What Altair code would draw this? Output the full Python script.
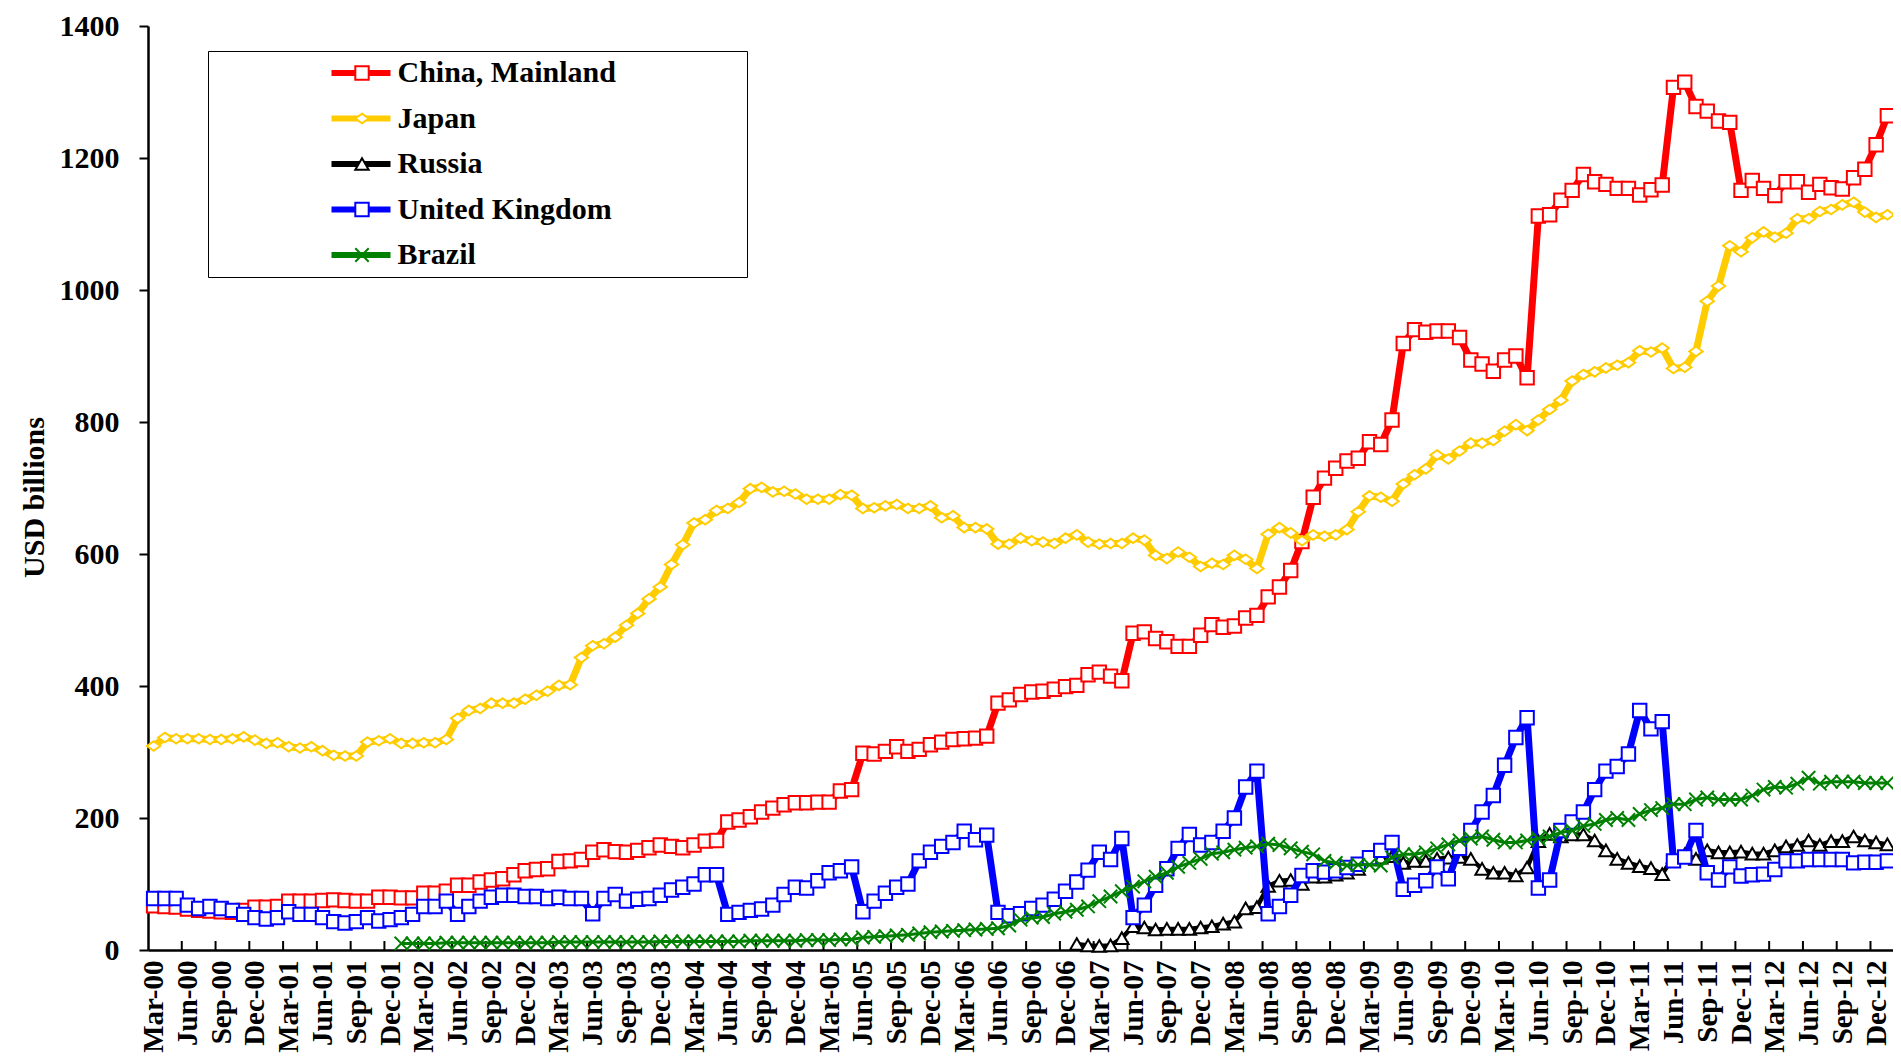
import altair as alt
import pandas as pd

# ---------------- data ----------------
SERIES = ["China, Mainland", "Japan", "Russia", "United Kingdom", "Brazil"]
COLORS = ["#FF0000", "#FFCC00", "#000000", "#0000FF", "#008000"]
LINE_WIDTHS = [7, 7, 4.5, 7, 3]

MONTH_NAMES = ["Jan", "Feb", "Mar", "Apr", "May", "Jun",
               "Jul", "Aug", "Sep", "Oct", "Nov", "Dec"]
# monthly categories Mar-00 ... Jan-13
months = []
mm, yy = 2, 0
for _ in range(155):
    months.append(f"{MONTH_NAMES[mm]}-{yy:02d}")
    mm += 1
    if mm == 12:
        mm, yy = 0, yy + 1

china = [67, 66, 65, 62, 60, 59, 58, 57, 60,
         65, 65, 66, 74, 74, 74, 75, 76, 75, 74, 74, 80, 80, 79, 79, 86, 86, 89, 98, 98,
         103, 106, 108, 114, 120, 122, 123, 134, 135, 137,
         148, 152, 149, 148, 151, 155, 159, 157, 155, 159,
         165, 166, 194, 197, 202, 209, 215, 220, 223, 223,
         224, 224, 241, 243, 298, 297, 301, 308, 301, 304,
         311, 315, 319, 320, 321, 324, 374, 379, 387, 391,
         392, 395, 399, 401, 417, 421, 415, 408, 480, 482,
         472, 467, 460, 460, 477, 493, 489, 491, 503, 507,
         535, 550, 575, 619, 686, 715, 730, 741, 745, 770,
         766, 803, 919,
         940, 936, 938, 938, 928, 894, 888, 877, 894, 900,
         867, 1112, 1114, 1136, 1151, 1175, 1164, 1160, 1154, 1154,
         1144, 1152, 1159, 1307, 1315, 1278, 1271, 1256, 1254, 1151,
         1166, 1154, 1143, 1164, 1164, 1148, 1160, 1155, 1153, 1170,
         1183, 1220, 1264]

japan = [309, 322, 320, 320, 320, 319, 319, 320, 323, 318,
         313, 314, 308, 306, 308, 302, 295, 294, 294, 315,
         317, 320, 313, 313, 314, 314, 319, 351, 363, 366,
         374, 374, 374, 380, 386, 392, 401, 402, 443,
         461, 464, 474, 492, 510, 532, 550, 584, 614, 647,
         652, 666, 669, 678, 699, 701, 694, 695, 691, 683,
         683, 683, 690, 689, 669, 670, 673, 675, 669, 669,
         673, 655, 658, 640, 640, 638, 615,
         615, 624, 620, 618, 616, 624, 629, 618, 615, 616,
         616, 624, 621, 598, 593, 603, 595, 581, 586, 584,
         598, 592, 578, 630, 640, 632, 620, 629, 627, 629,
         637, 664, 688, 686, 680, 706, 720, 729, 750,
         744, 756, 768, 768, 772, 786, 796, 787, 803, 819, 833,
         862, 872, 876, 882, 886, 890, 908, 906, 912, 881,
         883, 907, 983, 1006, 1067, 1058, 1079, 1088, 1080, 1086,
         1108, 1108, 1119, 1122, 1129, 1133, 1118, 1110, 1114]

russia = [None] * 82 + [
    9, 7, 6, 7, 18, 36, 34, 31, 32, 32,
    32, 34, 36, 40, 43, 63, 65, 97, 105, 106,
    100, 111, 111, 114, 117, 123, 140, 140, 142, 132,
    135, 135, 138, 140, 141, 138, 123, 117, 117, 113,
    125, 165, 176, 172, 175, 175, 166, 151, 138, 132,
    127, 124, 115, 141, 145, 138, 151, 148, 148, 149,
    146, 146, 151, 157, 159, 166, 159, 165, 165, 172,
    166, 163, 160]

uk = [78, 78, 78, 68, 63, 66, 63, 60, 54, 49,
      47, 49, 58, 54, 54, 49, 43, 41, 43, 49,
      44, 46, 49, 54, 66, 66, 74, 54, 66, 74,
      80, 83, 83, 81, 81, 78, 80, 78, 78, 55,
      78, 84, 74, 77, 78, 83, 91, 95, 100, 114,
      114, 54, 57, 60, 62, 68, 84, 95, 94, 105,
      117, 120, 126, 58, 74, 86, 95, 100, 135, 148,
      157, 163, 180, 167, 174, 57, 52,
      55, 63, 68, 77, 89, 103, 121, 148, 137, 169,
      49, 68, 98, 123, 154, 175, 159, 163, 180, 200,
      247, 271, 55, 66, 83, 113, 120, 118, 120, 125,
      130, 140, 151, 163, 92,
      98, 105, 126, 108, 154, 181, 209, 234, 280, 322,
      352, 94, 106, 181, 194, 209, 243, 271, 278, 297,
      363, 335, 346, 135, 141, 181, 117, 106, 126, 112,
      114, 115, 122, 135, 135, 137, 137, 137, 137, 132,
      133, 133, 135]

brazil = [None] * 22 + [
    10, 10, 10, 10, 11, 11, 11, 11, 11, 11, 11, 11, 11, 11,
    12, 12, 12, 12, 12, 12, 12, 12, 12, 13, 13, 13, 13, 13, 13,
    13, 13, 14, 14, 14, 14, 14, 15, 15, 15, 16, 16,
    19, 20, 21, 22, 23, 25, 27, 28, 29, 30, 31, 32,
    33, 37, 46, 49, 50, 55, 58, 61, 66, 74,
    81, 89, 96, 104, 111, 117, 126, 132, 138, 146,
    148, 152, 155, 157, 161, 159, 154, 149, 145, 135,
    132, 128, 129, 129, 128, 140, 145,
    145, 148, 154, 160, 166, 169, 172, 167, 163, 163,
    166, 169, 172, 178, 181, 188, 191, 197, 200, 197,
    206, 212, 215, 221, 221, 228, 231, 228, 228, 228,
    234, 243, 247, 246, 252, 261, 252, 255, 255, 255,
    253, 253, 253]

VALUES = [china, japan, russia, uk, brazil]

rows = []
for name, vals in zip(SERIES, VALUES):
    for i, v in enumerate(vals):
        if v is not None:
            rows.append({"i": i, "month": months[i], "series": name,
                         "lkey": name + "_line", "v": v})
df = pd.DataFrame(rows)

label_idx = list(range(0, 154, 3))            # Mar-00, Jun-00, ... Dec-12
tick_pos = [k - 0.5 for k in range(3, 154, 3)]  # category boundaries
ticks_df = pd.DataFrame({"t": tick_pos})

# ---------------- styling ----------------
FONT = "Liberation Serif"
FS = 30
TOP = 18
W, H = 1745, 924

label_array = "[" + ",".join("'" + months[k] + "'" for k in label_idx) + "]"

xscale = alt.Scale(domain=[-0.5, 154.5], nice=False, zero=False)
yscale = alt.Scale(domain=[0, 1400], nice=False)

xaxis = alt.Axis(values=label_idx, labelExpr=label_array + "[round(datum.value/3)]",
                 labelAngle=270, labelAlign="right", labelBaseline="middle",
                 labelFont=FONT, labelFontSize=29, labelFontWeight="bold",
                 labelColor="black", labelPadding=10, ticks=False, tickSize=0,
                 domainColor="black", domainWidth=2.5, grid=False, title=None,
                 labelFlush=False, labelOverlap=False)
yaxis = alt.Axis(values=list(range(0, 1401, 200)), format="d", title="USD billions",
                 titleFont=FONT, titleFontSize=FS, titleFontWeight="bold",
                 titleColor="black", titleX=-114, titleY=471, titleAngle=270,
                 titleAlign="center", titleBaseline="middle",
                 labelFont=FONT, labelFontSize=30, labelFontWeight="bold",
                 labelColor="black", labelPadding=20, tickSize=9, tickWidth=2,
                 tickColor="black", domainColor="black", domainWidth=2.5,
                 grid=False, labelFlush=False, labelOverlap=False)

SHAPES = ["square", "M0,-0.72L1,0L0,0.72L-1,0Z", "triangle-up", "square",
          "M-1,-1L1,1M-1,1L1,-1"]

# line samples + frame (its invisible spacer labels sit right of the visible ones)
legend_lines = alt.Legend(orient="none", legendX=60, legendY=25, title=None,
                          direction="vertical", symbolType="stroke", symbolSize=3481,
                          symbolStrokeWidth=6, symbolOffset=113.5, labelOffset=346,
                          labelOpacity=0, labelFont=FONT, labelFontSize=FS,
                          labelFontWeight="bold", labelLimit=600, rowPadding=15.5,
                          clipHeight=30, padding=7, strokeColor="black",
                          labelExpr="'\u00a0\u00a0\u00a0\u00a0\u00a0\u00a0\u00a0'")
# markers + visible series names
legend_marks = alt.Legend(orient="none", legendX=60, legendY=25, title=None,
                          direction="vertical", symbolSize=180, symbolStrokeWidth=2,
                          symbolFillColor="white", symbolOffset=132, labelOffset=20.5,
                          labelFont=FONT, labelFontSize=FS, labelFontWeight="bold",
                          labelColor="black", labelLimit=600, rowPadding=15.5,
                          clipHeight=30, padding=7)

LINE_KEYS = [s + "_line" for s in SERIES]

layers = []
tick_layer = alt.Chart(ticks_df).mark_rule(color="black", strokeWidth=2).encode(
    x=alt.X("t:Q", scale=xscale, axis=xaxis),
    y=alt.value(H),
    y2=alt.value(H - 9),
)
layers.append(tick_layer)

base = alt.Chart(df)
for name, lw in zip(SERIES, LINE_WIDTHS):
    sub = base.transform_filter(alt.datum.series == name)
    line = sub.mark_line(strokeWidth=lw, strokeJoin="round", strokeCap="round").encode(
        x=alt.X("i:Q", scale=xscale, axis=xaxis),
        y=alt.Y("v:Q", scale=yscale, axis=yaxis),
        color=alt.Color("lkey:N", scale=alt.Scale(domain=LINE_KEYS, range=COLORS),
                        legend=legend_lines),
        order="i:Q",
    )
    pts = sub.mark_point(filled=True, fill="white", size=180, strokeWidth=2,
                         opacity=1).encode(
        x=alt.X("i:Q", scale=xscale, axis=xaxis),
        y=alt.Y("v:Q", scale=yscale, axis=yaxis),
        stroke=alt.Stroke("series:N", scale=alt.Scale(domain=SERIES, range=COLORS),
                          legend=legend_marks),
        shape=alt.Shape("series:N", scale=alt.Scale(domain=SERIES, range=SHAPES),
                        legend=legend_marks),
        tooltip=["month:N", "series:N", "v:Q"],
    )
    layers += [line, pts]

chart = alt.layer(*layers).properties(
    width=W, height=H,
    autosize=alt.AutoSizeParams(type="none"),
    padding={"left": 140, "top": TOP, "right": 0, "bottom": 106},
    background="white",
).configure_view(stroke=None)

chart.save("out.html", embed_options={"renderer": "svg", "actions": False})
